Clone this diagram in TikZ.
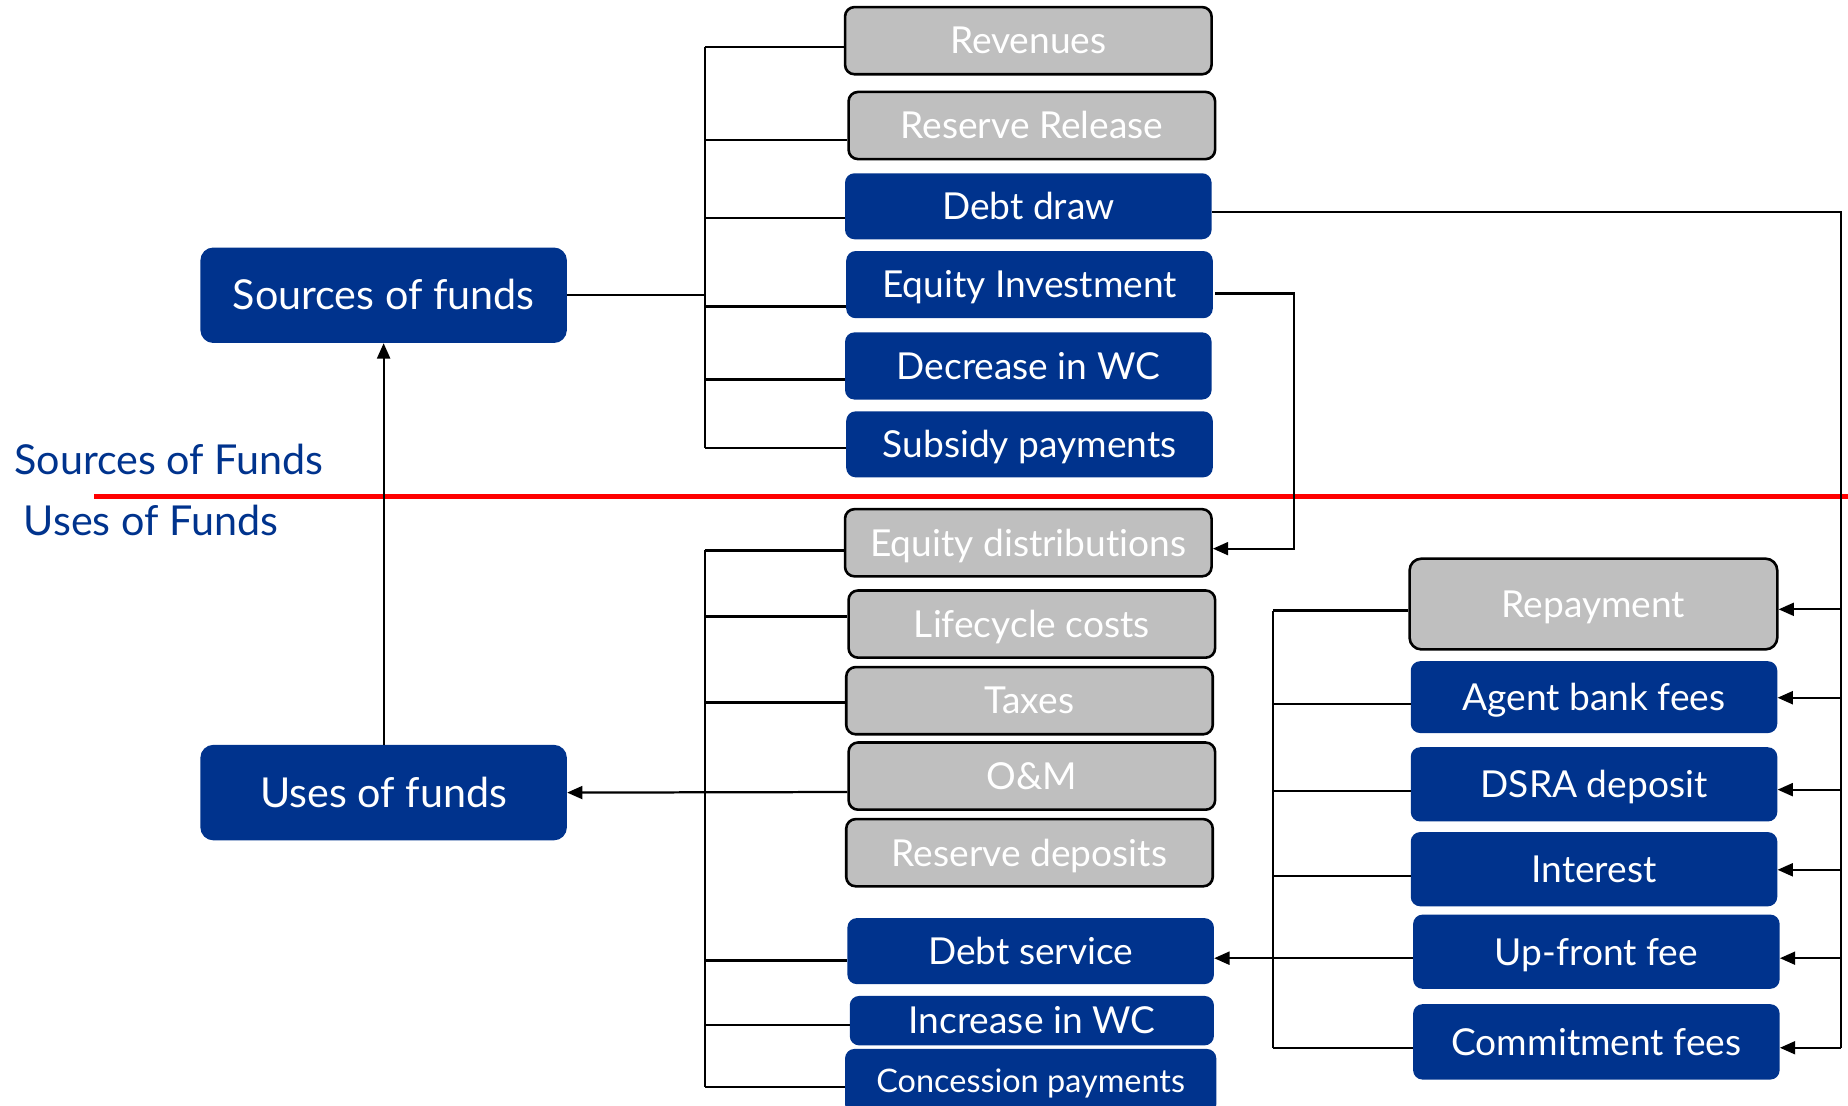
\documentclass[tikz,border=0pt]{standalone}
\usepackage{fontspec}
\setmainfont{Lato}[Ligatures=NoCommon]
\usetikzlibrary{arrows.meta,calc}
\definecolor{fundblue}{RGB}{0,51,141}
\definecolor{fundgray}{RGB}{191,191,191}
\definecolor{fundred}{RGB}{255,0,0}

\begin{document}
\begin{tikzpicture}[x=1pt,y=-1pt,
  box/.style={rounded corners=8pt, minimum width=311pt, minimum height=57pt,
    inner sep=0pt, text=white, font=\fontsize{31.5}{31.5}\selectfont,
    text height=22.6pt, text depth=0pt},
  bluebox/.style={box, fill=fundblue},
  graybox/.style={box, fill=fundgray, draw=black, line width=2.2pt},
  headbox/.style={bluebox, minimum height=81pt, rounded corners=11pt,
    font=\fontsize{35}{35}\selectfont, text height=25pt},
  sidelabel/.style={anchor=west, text=fundblue, inner sep=0pt, font=\fontsize{35}{35}\selectfont},
  link/.style={draw=black, line width=1.9pt},
  feed/.style={link, -{Triangle[length=13pt,width=11pt]}},
]
\clip (0,0) rectangle (1568,938);

% summary boxes
\node[headbox] (src) at (325.5,250.5) {Sources of funds};
\node[headbox] (use) at (325.5,672.5) {Uses of funds};

% sources column
\node[graybox] (rev) at (872.5,34.5) {Revenues};
\node[graybox] (rr)  at (875.5,106.5) {Reserve Release};
\node[bluebox, minimum height=56pt] (dd) at (872.5,175) {Debt draw};
\node[bluebox] (ei)  at (873.5,241.5) {Equity Investment};
\node[bluebox] (dwc) at (872.5,310.5) {Decrease in WC};
\node[bluebox, minimum height=56pt] (sp) at (873.5,377) {Subsidy payments};

% uses column
\node[graybox] (ed) at (872.5,460.5) {Equity distributions};
\node[graybox] (lc) at (875.5,529.5) {Lifecycle costs};
\node[graybox] (tx) at (873.5,594.5) {Taxes};
\node[graybox] (om) at (875.5,658.5) {O\&M};
\node[graybox] (rd) at (873.5,723.5) {Reserve deposits};
\node[bluebox, minimum height=56pt] (ds) at (874.5,807) {Debt service};
\node[bluebox, minimum width=309pt, minimum height=42pt] (iwc) at (875.5,866) {Increase in WC};
\node[bluebox, minimum width=315pt, minimum height=55pt,
      font=\fontsize{27.5}{27.5}\selectfont, text height=19.7pt] (cp) at (874.5,917.5) {Concession payments};

% debt service column
\node[graybox, minimum width=312pt, minimum height=77pt, rounded corners=10pt] (rep) at (1352,512.5) {Repayment};
\node[bluebox, minimum height=61pt] (abf)  at (1352.5,591.5) {Agent bank fees};
\node[bluebox, minimum height=63pt] (dsra) at (1352.5,665.5) {DSRA deposit};
\node[bluebox, minimum height=63pt] (int)  at (1352.5,737.5) {Interest};
\node[bluebox, minimum height=63pt] (uff)  at (1354.5,807.5) {Up-front fee};
\node[bluebox, minimum height=64pt] (cf)   at (1354.5,884) {Commitment fees};

% divider between sources and uses
\coordinate (divL) at (80,421);
\coordinate (divR) at (1568,421);
\draw[fundred, line width=4pt] (divL) -- (divR);
\node[sidelabel] (srclbl) at (12,390) {Sources of Funds};
\node[sidelabel] (uselbl) at (20,442) {Uses of Funds};

% bus lines
\coordinate (sbus) at (598,0);
\coordinate (lbus) at (1080,0);
\coordinate (rbus) at (1562,0);
\coordinate (ebend) at (1098,0);
\coordinate (dsfeed) at (1164,813);

% sources bracket
\foreach \n/\d in {rev/5.5, rr/12.5, dd/10, ei/18.5, dwc/11.5, sp/3}{
  \path ($(\n.west)+(0,\d)$) coordinate (s\n);
  \draw[link] (sbus |- s\n) -- (s\n);
}
\draw[link] (sbus |- srev) -- (sbus |- ssp);
\draw[link] (src.east) -- (sbus |- src.east);

% uses bracket
\foreach \n/\d in {ed/6.5, lc/-6.5, tx/1.5, ds/8, iwc/4, cp/4.5}{
  \path ($(\n.west)+(0,\d)$) coordinate (u\n);
  \draw[link] (sbus |- u\n) -- (u\n);
}
\draw[link] (sbus |- ued) -- (sbus |- ucp);
\path ($(om.west)+(0,13.5)$) coordinate (omout);
\draw[feed] (omout) -- (use.east);
\draw[feed] (use.north) -- (src.south);

% debt service bracket
\foreach \n/\d in {rep/5.5, abf/5.5, dsra/5.5, int/5.5, uff/5.5, cf/5}{
  \path ($(\n.west)+(0,\d)$) coordinate (l\n);
  \draw[link] (lbus |- l\n) -- (l\n);
}
\draw[link] (lbus |- lrep) -- (lbus |- lcf);
\path ($(ds.east)+(0,6)$) coordinate (dsin);
\draw[feed] (dsfeed) -- (dsin);

% debt draw feeding the debt service items
\foreach \n/\d in {rep/4.5, abf/0.5, dsra/4.5, int/0.5, uff/5.5, cf/5}{
  \path ($(\n.east)+(0,\d)$) coordinate (r\n);
  \draw[feed] (rbus |- r\n) -- (r\n);
}
\path ($(dd.east)+(0,5)$) coordinate (ddout);
\draw[link] (ddout) -| (rbus |- rcf);

% equity investment to equity distributions
\path ($(ei.east)+(2,7.5)$) coordinate (eiout);
\path ($(ed.east)+(0,5)$) coordinate (edin);
\draw[feed] (eiout) -| (ebend |- edin) -- (edin);
\end{tikzpicture}
\end{document}
